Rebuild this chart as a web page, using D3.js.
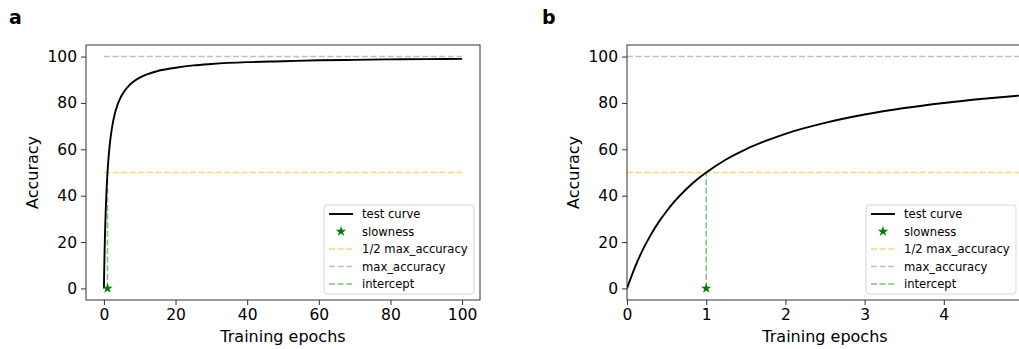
<!DOCTYPE html>
<html>
<head>
<meta charset="utf-8">
<script src="https://cdn.jsdelivr.net/npm/d3@7"></script>
<style>
  body { margin: 0; background: #fff; }
  text { font-family: "DejaVu Sans", sans-serif; fill: #000; }
</style>
</head>
<body>
<svg id="chart" width="1019" height="349"></svg>
<script>
// test curve (denser near the start where it bends)
const epochs = [0, 0.1, 0.2, 0.3, 0.4, 0.5, 0.6, 0.75, 0.9, 1, 1.25, 1.5, 1.75, 2, 2.5, 3, 3.5, 4, 4.5, 5, 6, 7, 8, 10, 12, 15, 20, 25, 30, 40, 50, 60, 70, 80, 90, 100];
const accuracy = [0, 9.1, 16.7, 23.1, 28.6, 33.3, 37.5, 42.9, 47.4, 50, 55.6, 60, 63.6, 66.7, 71.4, 75, 77.8, 80, 81.8, 83.3, 85.7, 87.5, 88.9, 90.9, 92.3, 93.8, 95.2, 96.2, 96.8, 97.6, 98, 98.4, 98.6, 98.8, 98.9, 99];

const maxAccuracy = 100;
const halfAccuracy = 50;
const slowness = [1, 0];       // star marker (epoch, accuracy)
const interceptEpoch = 1;

const legendLabels = ['test curve', 'slowness', '1/2 max_accuracy', 'max_accuracy', 'intercept'];
const yTicks = [0, 20, 40, 60, 80, 100];
const xTicksA = [0, 20, 40, 60, 80, 100];
const xTicksB = [0, 1, 2, 3, 4, 5];

const svg = d3.select('#chart');

const colors = {
	curve: '#000',
	star: '#008000',
	half: 'rgba(255,165,0,0.5)',
	max: 'rgba(128,128,128,0.5)',
	intercept: 'rgba(0,128,0,0.5)',
};

const starPath = d3.symbol().type(d3.symbolStar).size(34)();

function drawPanel(opts) {
	const { left, right, top, bottom, xDomain, xTicks, letter, letterX, legendX, clipId } = opts;
	const g = svg.append('g');
	const x = d3.scaleLinear().domain(xDomain).range([left, right]);
	const y = d3.scaleLinear().domain([-5, 105]).range([bottom, top]);

	g.append('clipPath').attr('id', clipId)
		.append('rect')
		.attr('x', left).attr('y', top)
		.attr('width', right - left).attr('height', bottom - top);

	const plot = g.append('g').attr('clip-path', `url(#${clipId})`);

	// max accuracy (gray) and half (orange) lines
	plot.append('line')
		.attr('x1', x(0)).attr('x2', x(100))
		.attr('y1', y(maxAccuracy)).attr('y2', y(maxAccuracy))
		.attr('stroke', colors.max).attr('stroke-width', 1.5)
		.attr('stroke-dasharray', '6,2.6');
	plot.append('line')
		.attr('x1', x(0)).attr('x2', x(100))
		.attr('y1', y(halfAccuracy)).attr('y2', y(halfAccuracy))
		.attr('stroke', colors.half).attr('stroke-width', 1.5)
		.attr('stroke-dasharray', '6,2.6');
	// intercept
	plot.append('line')
		.attr('x1', x(interceptEpoch)).attr('x2', x(interceptEpoch))
		.attr('y1', y(0)).attr('y2', y(halfAccuracy))
		.attr('stroke', colors.intercept).attr('stroke-width', 1.5)
		.attr('stroke-dasharray', '6,2.6');

	const line = d3.line()
		.x((d, i) => x(epochs[i]))
		.y(d => y(d))
		.curve(d3.curveMonotoneX);
	plot.append('path')
		.datum(accuracy)
		.attr('d', line)
		.attr('fill', 'none')
		.attr('stroke', colors.curve)
		.attr('stroke-width', 1.9);

	plot.append('path')
		.attr('d', starPath)
		.attr('transform', `translate(${x(slowness[0])},${y(slowness[1])})`)
		.attr('fill', colors.star);

	// frame
	g.append('rect')
		.attr('x', left).attr('y', top)
		.attr('width', right - left).attr('height', bottom - top)
		.attr('fill', 'none').attr('stroke', '#333').attr('stroke-width', 1);

	const xAxis = g.append('g')
		.attr('transform', `translate(0,${bottom})`)
		.call(d3.axisBottom(x).tickValues(xTicks).tickFormat(d3.format('d')).tickSize(5).tickPadding(4));
	const yAxis = g.append('g')
		.attr('transform', `translate(${left},0)`)
		.call(d3.axisLeft(y).tickValues(yTicks).tickFormat(d3.format('d')).tickSize(5).tickPadding(4));
	[xAxis, yAxis].forEach(a => {
		a.select('.domain').remove();
		a.selectAll('line').attr('stroke', '#333');
		a.selectAll('text')
			.style('font-family', '"DejaVu Sans", sans-serif')
			.style('font-size', '15.5px').attr('fill', '#000');
	});

	g.append('text')
		.attr('x', (left + Math.min(right, 1019)) / 2 + (letter === 'b' ? 2 : 0))
		.attr('y', 342)
		.attr('text-anchor', 'middle')
		.style('font-size', '16px')
		.text('Training epochs');
	g.append('text')
		.attr('transform', `translate(${left - 48},${(top + bottom) / 2}) rotate(-90)`)
		.attr('text-anchor', 'middle')
		.style('font-size', '16px')
		.text('Accuracy');
	g.append('text')
		.attr('x', letterX).attr('y', 24)
		.style('font-size', '19px').style('font-weight', 'bold')
		.text(letter);

	// legend
	const lg = g.append('g').attr('transform', `translate(${legendX},205)`);
	lg.append('rect')
		.attr('width', 150).attr('height', 89).attr('rx', 3)
		.attr('fill', 'rgba(255,255,255,0.8)')
		.attr('stroke', '#d6d6d6').attr('stroke-width', 1);
	const rowStyles = [
		{ type: 'line', color: colors.curve, dash: null },
		{ type: 'star', color: colors.star },
		{ type: 'line', color: colors.half, dash: '6,2.6' },
		{ type: 'line', color: colors.max, dash: '6,2.6' },
		{ type: 'line', color: colors.intercept, dash: '6,2.6' },
	];
	legendLabels.forEach((label, i) => {
		const cy = 9 + i * 17.5;
		const st = rowStyles[i];
		if (st.type === 'line') {
			lg.append('line')
				.attr('x1', 5).attr('x2', 29)
				.attr('y1', cy).attr('y2', cy)
				.attr('stroke', st.color)
				.attr('stroke-width', st.dash ? 1.5 : 1.9)
				.attr('stroke-dasharray', st.dash);
		} else {
			lg.append('path')
				.attr('d', starPath)
				.attr('transform', `translate(17,${cy})`)
				.attr('fill', st.color);
		}
		lg.append('text')
			.attr('x', 38).attr('y', cy)
			.attr('dy', '0.36em')
			.style('font-size', '11.6px')
			.text(label);
	});
}

drawPanel({
	left: 86, right: 480, top: 45, bottom: 300,
	xDomain: [-5, 105], xTicks: xTicksA,
	letter: 'a', letterX: 9, legendX: 324, clipId: 'clipA',
});
drawPanel({
	left: 627, right: 1023, top: 45, bottom: 300,
	xDomain: [0, 5], xTicks: xTicksB,
	letter: 'b', letterX: 542, legendX: 866, clipId: 'clipB',
});
</script>
</body>
</html>
